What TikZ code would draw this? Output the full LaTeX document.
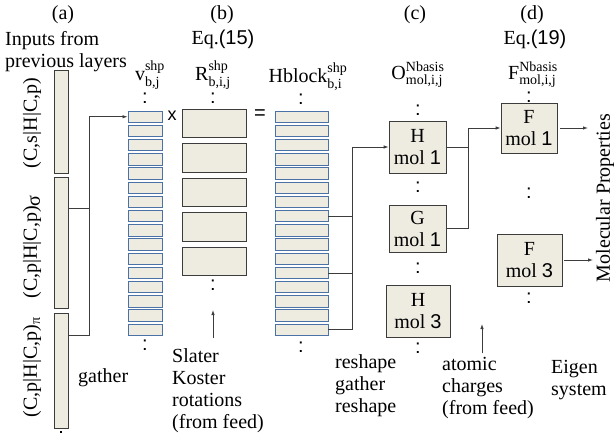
\documentclass[tikz,border=0pt]{standalone}
\usepackage{fontspec}
\usepackage{amsmath}
\setmainfont{Liberation Serif}
\setsansfont{Liberation Sans}
\usetikzlibrary{arrows.meta}
\definecolor{beige}{HTML}{EEEBE1}
\definecolor{rowblue}{HTML}{4A72A6}
\definecolor{edge}{HTML}{3C3C3C}
\begin{document}
\begin{tikzpicture}[x=1pt,y=-1pt,
  font=\fontsize{20}{22}\selectfont,
  bar/.style={draw=edge,fill=beige,line width=0.8pt,inner sep=0,minimum width=14},
  vrow/.style={draw=rowblue,fill=beige,line width=0.9pt,inner sep=0,minimum width=34,minimum height=11.5},
  hrow/.style={draw=rowblue,fill=beige,line width=0.9pt,inner sep=0,minimum width=53,minimum height=11.5},
  rbox/.style={draw=edge,fill=beige,line width=0.8pt,inner sep=0,minimum width=64,minimum height=28.5},
  molbox/.style={draw=edge,fill=beige,line width=0.8pt,inner sep=0,align=center},
  conn/.style={draw=edge,line width=0.8pt},
  arr/.style={conn,-{Latex[length=5pt,width=3.5pt]}},
  dotsv/.style={inner sep=0,font=\sffamily\fontsize{20}{22}\selectfont},
  lbl/.style={inner sep=0},
  note/.style={inner sep=0,anchor=north west,align=left}
]
\useasboundingbox (0,0) rectangle (614,434);

% headers
\node[lbl] (ha) at (63,15) {(a)};
\node[lbl] (hb) at (222,15) {(b)};
\node[lbl] (hc) at (415,15) {(c)};
\node[lbl] (hd) at (532,15) {(d)};
\node[lbl] (eq15) at (223,39) {Eq.{\sffamily(15)}};
\node[lbl] (eq19) at (535,39) {Eq.{\sffamily(19)}};
\node[note] (inp) at (5,31) {Inputs from\\previous layers};

% column labels
\node[lbl] (lv) at (150,75) {v$^{\textrm{shp}}_{\textrm{b,j}}$};
\node[lbl] (lr) at (213,75) {R$^{\textrm{shp}}_{\textrm{b,i,j}}$};
\node[lbl] (lh) at (308,77) {Hblock$^{\textrm{shp}}_{\textrm{b,i}}$};
\node[lbl] (lo) at (418,75) {O$^{\textrm{Nbasis}}_{\textrm{mol,i,j}}$};
\node[lbl] (lf) at (533,75) {F$^{\textrm{Nbasis}}_{\textrm{mol,i,j}}$};

% left bars
\node[bar,minimum height=103] (bar1) at (61,121.5) {};
\node[bar,minimum height=131] (bar2) at (61,242.5) {};
\node[bar,minimum height=115] (bar3) at (61,370.5) {};
\node[lbl,rotate=90] (la1) at (32,123) {(C,s|H|C,p)};
\node[lbl,rotate=90] (la2) at (32,247) {(C,p|H|C,p)\raisebox{-3pt}{σ}};
\node[lbl,rotate=90] (la3) at (32,367) {(C,p|H|C,p)\textsubscript{π}};
\fill[black] (60,430.5) rectangle (62.2,432.7);

% v column and Hblock column
\foreach \k in {1,...,16}{
  \node[vrow] (v\k) at (145,{116.75+14.2*(\k-1)}) {};
  \node[hrow] (h\k) at (301.5,{116.75+14.2*(\k-1)}) {};
}
\node[dotsv] (dv1) at (145,98) {:};
\node[dotsv] (dv2) at (145,345) {:};
\node[dotsv] (dh1) at (301,99) {:};
\node[dotsv] (dh2) at (301,347) {:};

% R column
\foreach \k/\y in {1/123.25,2/157.75,3/192.25,4/226.75,5/261.25}{
  \node[rbox] (r\k) at (214,\y) {};
}
\node[dotsv] (dr1) at (213,98) {:};
\node[dotsv] (dr2) at (213,285) {:};
\node[lbl,font=\sffamily\fontsize{18}{20}\selectfont] (times) at (172,116) {x};
\node[lbl,font=\sffamily\fontsize{20}{22}\selectfont] (eqs) at (260,115) {=};

% (c) boxes
\node[molbox,minimum width=57,minimum height=52] (Hm1) at (417.5,147) {H\\mol {\sffamily 1}};
\node[molbox,minimum width=57,minimum height=47] (Gm1) at (417.5,228.5) {G\\mol {\sffamily 1}};
\node[molbox,minimum width=64,minimum height=52] (Hm3) at (418,311) {H\\mol {\sffamily 3}};
\node[dotsv] (do1) at (418,110) {:};
\node[dotsv] (do2) at (418,187) {:};
\node[dotsv] (do3) at (418,268) {:};
\node[dotsv] (do4) at (418,348) {:};

% (d) boxes
\node[molbox,minimum width=56,minimum height=50] (Fm1) at (529,128) {F\\mol {\sffamily 1}};
\node[molbox,minimum width=65,minimum height=52] (Fm3) at (529.5,260) {F\\mol {\sffamily 3}};
\node[dotsv] (df1) at (529,97) {:};
\node[dotsv] (df2) at (529,193) {:};
\node[dotsv] (df3) at (529,298) {:};

\node[lbl,rotate=90] (mp) at (605,198) {Molecular Properties};

% connectors (a) -> v
\coordinate (g2) at (89,208);
\coordinate (g3) at (89,335);
\draw[conn] (bar2.east |- g2) -- (g2);
\draw[arr] (bar3.east |- g3) -- (g3) -- (g3 |- v1.west) -- (v1.west);

% Hblock -> H mol 1
\coordinate (gh) at (352,0);
\draw[conn] (h8.east) -- (h8.east -| gh);
\draw[conn] (h12.east) -- (h12.east -| gh);
\draw[arr] (h16.east) -- (h16.east -| gh) -- (gh |- Hm1.west) -- (Hm1.west);

% O -> F
\coordinate (gc) at (468,0);
\draw[conn] (Hm1.east) -- (Hm1.east -| gc);
\draw[arr] (Gm1.east) -- (Gm1.east -| gc) -- (gc |- Fm1.west) -- (Fm1.west);

% outputs
\coordinate (o1) at (588,0);
\coordinate (o3) at (593,0);
\draw[arr,shorten <=3pt] (Fm1.east) -- (Fm1.east -| o1);
\draw[arr,shorten <=2pt] (Fm3.east) -- (Fm3.east -| o3);

% feed arrows
\coordinate (sk0) at (213,338);
\coordinate (sk1) at (213,310);
\draw[arr] (sk0) -- (sk1);
\coordinate (ac0) at (482,353);
\coordinate (ac1) at (482,324);
\draw[arr] (ac0) -- (ac1);

% notes
\node[note] (ngather) at (78,368) {gather};
\node[note] (nsk) at (172,348) {Slater\\Koster\\rotations\\(from feed)};
\node[note] (nres) at (335,354) {reshape\\gather\\reshape};
\node[note] (nat) at (442,357) {atomic\\charges\\(from feed)};
\node[note] (neig) at (551,360) {Eigen\\system};
\end{tikzpicture}
\end{document}
